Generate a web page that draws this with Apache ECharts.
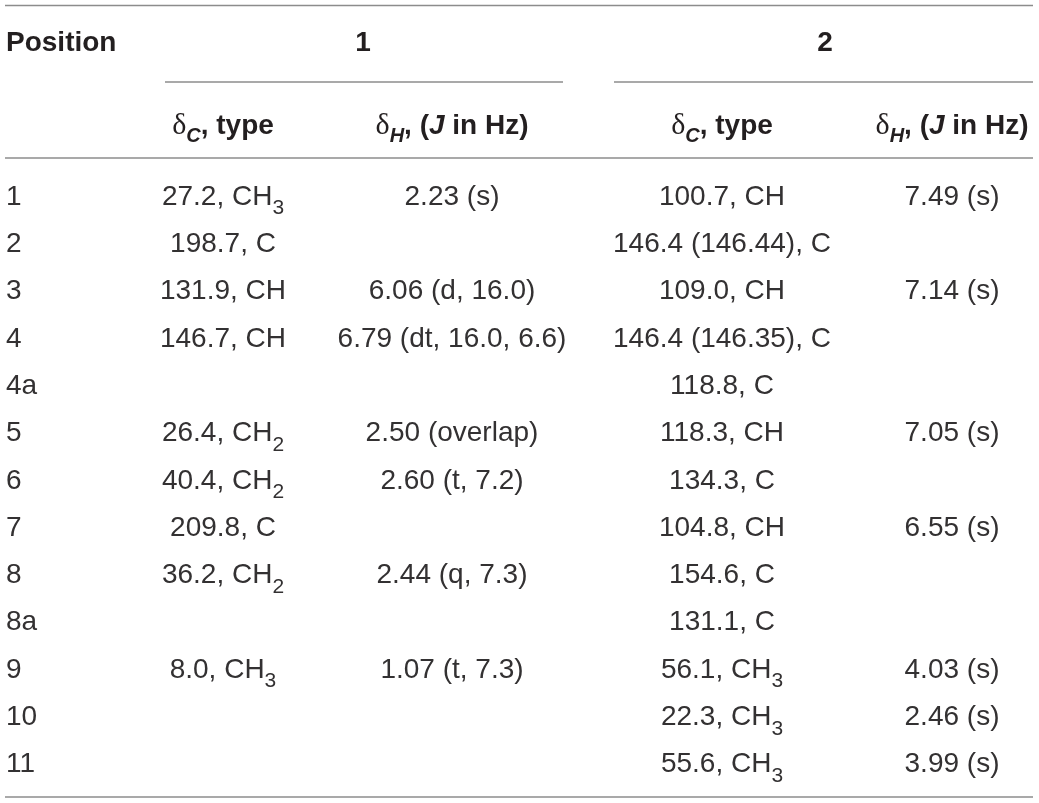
<!DOCTYPE html>
<html lang="en">
<head>
    <meta charset="UTF-8">
    <title>NMR data</title>
    <script src="https://cdn.jsdelivr.net/npm/echarts@6/dist/echarts.min.js"></script>
    <style>html, body {margin: 0; padding: 0; background: #fff;}</style>
</head>
<body>
<div id='box' style="width: 1039px;height:803px;"></div>
<script>
    // table values, one array per column
    var positions = ['1', '2', '3', '4', '4a', '5', '6', '7', '8', '8a', '9', '10', '11'];
    var c1 = ['27.2, CH3', '198.7, C', '131.9, CH', '146.7, CH', '', '26.4, CH2', '40.4, CH2', '209.8, C', '36.2, CH2', '', '8.0, CH3', '', ''];
    var h1 = ['2.23 (s)', '', '6.06 (d, 16.0)', '6.79 (dt, 16.0, 6.6)', '', '2.50 (overlap)', '2.60 (t, 7.2)', '', '2.44 (q, 7.3)', '', '1.07 (t, 7.3)', '', ''];
    var c2 = ['100.7, CH', '146.4 (146.44), C', '109.0, CH', '146.4 (146.35), C', '118.8, C', '118.3, CH', '134.3, C', '104.8, CH', '154.6, C', '131.1, C', '56.1, CH3', '22.3, CH3', '55.6, CH3'];
    var h2 = ['7.49 (s)', '', '7.14 (s)', '', '', '7.05 (s)', '', '6.55 (s)', '', '', '4.03 (s)', '2.46 (s)', '3.99 (s)'];
    var compounds = ['1', '2'];
    var firstHeader = 'Position';
    var subHeaders = ['{d|δ}{si|C}, type', '{d|δ}{si|H}, ({j|J} in Hz)', '{d|δ}{si|C}, type', '{d|δ}{si|H}, ({j|J} in Hz)'];

    // layout
    var W = 1039, H = 803;
    var colX = [6, 223, 452, 722, 952];
    var colAlign = ['left', 'center', 'center', 'center', 'center'];
    var groupX = [363, 825];
    var headY = 43, subHeadY = 126;
    var rowTop = 197, rowStep = 47.3;
    var rules = [[5, 1033, 5.5], [165, 563, 82], [614, 1033, 82], [5, 1033, 158], [5, 1033, 797]];

    var SANS = 'Liberation Sans';
    var SERIF = 'Liberation Serif';
    var INK = '#231f20';
    var BODY_INK = '#333132';
    var FS = 28;

    function tok(size, weight, style, family, fill, extra) {
        var o = {fontSize: size, fontWeight: weight, fontStyle: style, fontFamily: family, fill: fill, lineHeight: 44};
        for (var k in extra) o[k] = extra[k];
        return o;
    }
    var bodyRich = {
        n: tok(FS, 'normal', 'normal', SANS, BODY_INK),
        s: tok(21, 'normal', 'normal', SANS, BODY_INK, {verticalAlign: 'bottom', lineHeight: 21})
    };
    var headRich = {
        b: tok(FS, 'bold', 'normal', SANS, INK, {lineHeight: 40}),
        d: tok(30, 'normal', 'normal', SERIF, INK, {lineHeight: 40}),
        si: tok(20, 'bold', 'italic', SANS, INK, {verticalAlign: 'bottom', lineHeight: 20}),
        j: tok(FS, 'bold', 'italic', SANS, INK, {lineHeight: 40})
    };

    function fmtBody(s) {
        // wrap plain runs in {n|..} and subscript digits after CH in {s|..}
        return s.split(/(CH\d)/).map(function (part) {
            if (/^CH\d$/.test(part)) return '{n|CH}{s|' + part.slice(2) + '}';
            return part ? '{n|' + part + '}' : '';
        }).join('');
    }
    function fmtHead(s) {
        // plain runs outside {x|..} go bold
        return s.split(/(\{[a-z]+\|[^}]*\})/).map(function (part) {
            if (!part) return '';
            if (part.charAt(0) === '{') return part;
            return '{b|' + part + '}';
        }).join('');
    }

    // build cell list
    var cells = [];
    var columns = [positions, c1, h1, c2, h2];
    for (var i = 0; i < positions.length; i++) {
        for (var j = 0; j < columns.length; j++) {
            if (columns[j][i]) cells.push({col: j, row: i, text: fmtBody(columns[j][i])});
        }
    }
    var heads = [];
    heads.push({x: colX[0], y: headY, align: 'left', text: fmtHead(firstHeader)});
    compounds.forEach(function (c, k) {
        heads.push({x: groupX[k], y: headY, align: 'center', text: fmtHead(c)});
    });
    subHeaders.forEach(function (t, k) {
        heads.push({x: colX[k + 1], y: subHeadY, align: 'center', text: fmtHead(t)});
    });

    var myChart = echarts.init(document.getElementById('box'));
    var option = {
        animation: false,
        grid: {left: 0, right: 0, top: 0, bottom: 0},
        xAxis: {type: 'value', min: 0, max: W, show: false},
        yAxis: {type: 'value', min: 0, max: H, inverse: true, show: false},
        series: [
            {
                type: 'custom',
                silent: true,
                data: rules.map(function (r, k) { return [k]; }),
                renderItem: function (params, api) {
                    var r = rules[params.dataIndex];
                    var a = api.coord([r[0], r[2]]), b = api.coord([r[1], r[2]]);
                    return {
                        type: 'line',
                        shape: {x1: a[0], y1: a[1], x2: b[0], y2: b[1]},
                        style: {stroke: '#8c8c8c', lineWidth: 1.5}
                    };
                }
            },
            {
                type: 'custom',
                silent: true,
                data: heads.map(function (h, k) { return [k]; }),
                renderItem: function (params, api) {
                    var h = heads[params.dataIndex];
                    var p = api.coord([h.x, h.y]);
                    return {
                        type: 'text', x: p[0], y: p[1],
                        style: {text: h.text, rich: headRich, align: h.align, verticalAlign: 'middle',
                            fontFamily: SANS, fontSize: FS, fontWeight: 'bold', fill: INK}
                    };
                }
            },
            {
                type: 'custom',
                silent: true,
                data: cells.map(function (c) { return [c.col, c.row]; }),
                renderItem: function (params, api) {
                    var c = cells[params.dataIndex];
                    var p = api.coord([colX[c.col], rowTop + c.row * rowStep]);
                    return {
                        type: 'text', x: p[0], y: p[1],
                        style: {text: c.text, rich: bodyRich, align: colAlign[c.col], verticalAlign: 'middle',
                            fontFamily: SANS, fontSize: FS, fill: BODY_INK}
                    };
                }
            }
        ]
    };
    myChart.setOption(option);
</script>
</body>
</html>
